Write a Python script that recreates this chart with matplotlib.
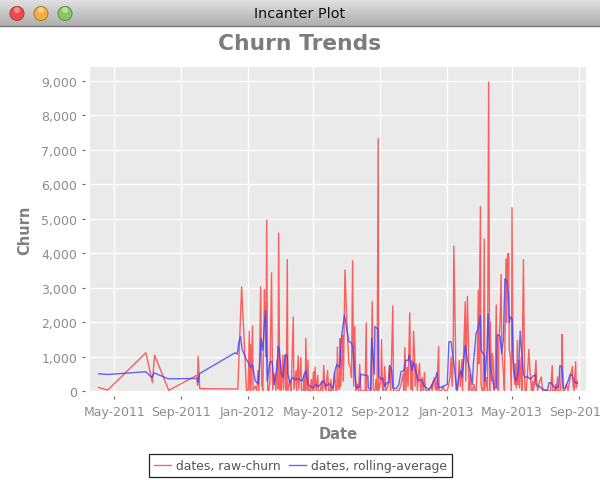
from matplotlib import pyplot as plt
from matplotlib.patches import Circle
from matplotlib.transforms import IdentityTransform
import matplotlib.dates as mdates
import matplotlib.ticker as ticker
import numpy as np
import pandas as pd

start_date = "2011-05-01"
window_title = "Incanter Plot"
chart_title = "Churn Trends"
raw_label = "dates, raw-churn"
avg_label = "dates, rolling-average"

# days counted from start_date
raw_days = [
    -29, -12, 58, 70, 74, 100, 152, 153, 154, 157, 227, 234, 243, 246, 248, 249, 250, 251, 254, 255,
    259, 262, 264, 266, 268, 269, 271, 273, 276, 277, 278, 279, 280, 282, 284, 286, 289, 291, 294, 297,
    299, 301, 302, 304, 305, 307, 310, 311, 314, 316, 318, 319, 323, 325, 329, 330, 334, 335, 338, 339,
    343, 344, 347, 349, 351, 352, 354, 356, 357, 360, 362, 364, 366, 367, 369, 371, 374, 375, 379, 381,
    383, 385, 387, 389, 392, 394, 397, 398, 400, 402, 405, 407, 409, 410, 412, 414, 415, 416, 420, 421,
    424, 427, 429, 431, 434, 436, 438, 440, 442, 444, 447, 449, 451, 453, 455, 459, 461, 463, 464, 468,
    470, 472, 474, 476, 479, 481, 483, 485, 486, 490, 491, 493, 495, 497, 499, 503, 506, 508, 512, 513,
    516, 520, 522, 523, 527, 531, 532, 534, 536, 538, 540, 543, 545, 547, 548, 550, 552, 553, 555, 557,
    559, 561, 563, 564, 566, 568, 570, 572, 575, 579, 583, 584, 588, 590, 592, 593, 596, 597, 601, 604,
    608, 612, 614, 617, 619, 621, 623, 624, 627, 628, 630, 632, 634, 636, 639, 640, 645, 646, 649, 651,
    652, 654, 656, 658, 661, 663, 665, 667, 669, 670, 673, 674, 676, 678, 680, 681, 684, 686, 688, 690,
    691, 693, 695, 696, 698, 700, 702, 704, 706, 707, 709, 711, 712, 715, 717, 718, 720, 721, 723, 725,
    726, 728, 730, 731, 733, 736, 737, 739, 741, 742, 744, 745, 748, 749, 752, 754, 755, 757, 759, 762,
    764, 767, 769, 770, 772, 775, 776, 778, 782, 785, 787, 791, 795, 798, 802, 805, 806, 809, 811, 812,
    815, 816, 820, 822, 823, 825, 827, 831, 834, 838, 842, 843, 845, 848, 849, 851,
]
raw_churn = [
    115, 40, 1120, 260, 1050, 30, 470, 180, 1020, 80, 70, 3030, 20, 30, 1740, 60, 1360, 20, 1900, 30,
    150, 10, 600, 20, 1915, 3030, 200, 30, 2950, 2000, 2600, 1000, 4970, 20, 10, 300, 3440, 50, 500, 30,
    900, 80, 4590, 50, 900, 20, 1050, 50, 1050, 30, 3820, 20, 300, 10, 2160, 60, 600, 10, 1030, 60,
    980, 10, 10, 500, 10, 1530, 30, 905, 30, 10, 350, 30, 570, 10, 700, 20, 470, 30, 10, 300,
    10, 750, 100, 30, 610, 30, 10, 350, 30, 10, 560, 30, 20, 1290, 100, 60, 1530, 150, 1630, 300,
    3520, 2200, 1500, 800, 700, 400, 3790, 150, 1890, 10, 200, 10, 780, 30, 10, 20, 10, 1990, 10, 10,
    30, 10, 2610, 60, 10, 350, 30, 7330, 20, 300, 1500, 60, 10, 720, 10, 150, 750, 10, 2480, 10,
    10, 10, 30, 10, 200, 500, 20, 1270, 30, 700, 150, 2280, 60, 900, 30, 1740, 1000, 150, 800, 30,
    500, 810, 10, 30, 400, 10, 550, 30, 10, 30, 200, 10, 400, 60, 300, 30, 1300, 30, 10, 150,
    10, 30, 150, 400, 1000, 150, 1200, 4210, 1500, 60, 10, 200, 900, 150, 925, 30, 2600, 300, 2755, 1300,
    30, 500, 30, 10, 200, 30, 10, 600, 2930, 800, 5355, 200, 30, 10, 4420, 30, 400, 10, 8960, 30,
    2010, 300, 1100, 900, 30, 200, 2510, 100, 30, 1500, 2000, 3390, 1200, 600, 30, 1500, 3840, 2000, 3990, 4000,
    1200, 1000, 10, 5320, 800, 200, 800, 100, 1480, 200, 900, 100, 1000, 30, 3820, 500, 30, 10, 400, 1220,
    600, 10, 300, 10, 200, 900, 400, 30, 300, 420, 20, 30, 10, 10, 30, 750, 30, 10, 200, 10,
    420, 30, 30, 600, 1650, 30, 10, 200, 30, 400, 720, 200, 30, 860, 100, 300,
]

avg_days = [
    -29, -12, 58, 69, 73, 99, 152, 154, 157, 222, 226, 229, 232, 235, 242, 246, 250, 254, 259, 264,
    266, 270, 273, 276, 278, 281, 286, 290, 294, 299, 301, 303, 307, 310, 314, 318, 319, 323, 327, 332,
    338, 345, 352, 356, 364, 371, 375, 381, 385, 389, 395, 398, 402, 405, 409, 414, 418, 423, 431, 436,
    438, 442, 445, 451, 453, 466, 467, 471, 473, 478, 479, 485, 486, 490, 493, 497, 501, 505, 506, 510,
    512, 518, 523, 527, 532, 536, 540, 542, 547, 550, 553, 559, 564, 570, 577, 583, 586, 590, 593, 596,
    602, 612, 615, 619, 623, 627, 630, 634, 637, 639, 641, 645, 649, 654, 658, 660, 665, 669, 673, 674,
    678, 680, 681, 685, 687, 689, 691, 695, 698, 702, 704, 709, 712, 715, 718, 722, 724, 726, 728, 731,
    733, 736, 739, 743, 746, 748, 752, 755, 759, 765, 770, 774, 775, 783, 790, 796, 799, 803, 807, 812,
    816, 817, 819, 823, 825, 829, 834, 838, 842, 845, 849, 851,
]
rolling_avg = [
    510, 490, 570, 400, 540, 365, 375, 260, 520, 1120, 1080, 1440, 1590, 1220, 950, 840, 700, 770, 300, 230,
    500, 1530, 1200, 1970, 2350, 300, 840, 880, 200, 700, 1300, 1240, 500, 400, 1050, 1050, 500, 250, 400, 350,
    360, 300, 615, 200, 100, 200, 130, 250, 300, 150, 230, 150, 100, 570, 780, 700, 1630, 2225, 1450, 1400,
    1300, 470, 100, 130, 500, 450, 100, 50, 1530, 500, 1880, 1800, 450, 350, 400, 150, 250, 250, 750, 600,
    100, 80, 200, 575, 600, 905, 900, 1050, 600, 850, 650, 300, 350, 150, 60, 130, 290, 350, 550, 100,
    130, 200, 1440, 1440, 950, 400, 50, 500, 600, 400, 700, 1340, 900, 600, 200, 800, 1680, 1820, 2200, 1190,
    1100, 1050, 300, 1200, 2250, 1300, 700, 350, 100, 100, 1650, 1600, 1100, 1500, 3260, 3200, 2800, 2000, 2160, 2100,
    1000, 400, 300, 600, 1750, 1300, 500, 400, 430, 350, 450, 480, 200, 120, 50, 30, 250, 250, 150, 100,
    130, 120, 750, 700, 100, 100, 300, 500, 450, 300, 230, 230,
]

y_ticks = [0, 1000, 2000, 3000, 4000, 5000, 6000, 7000, 8000, 9000]

raw_dates = pd.Timestamp(start_date) + pd.to_timedelta(raw_days, unit="D")
avg_dates = pd.Timestamp(start_date) + pd.to_timedelta(avg_days, unit="D")

plt.rcParams["font.family"] = "DejaVu Sans"
fig = plt.figure(figsize=(6.0, 4.81), dpi=100, facecolor="white")

# mac window title bar
bar = fig.add_axes([0, 1 - 27 / 481, 1, 27 / 481])
bar.imshow(np.linspace(0.88, 0.68, 27).reshape(-1, 1), aspect="auto", cmap="gray", vmin=0, vmax=1)
bar.axis("off")
fig.add_artist(plt.Line2D([0, 1], [1 - 27 / 481] * 2, color="#777777", lw=1))
fig.text(0.5, 1 - 14.5 / 481, window_title, ha="center", va="center", fontsize=10.4, color="#111111")

for cx, col, edge, shine in [(17, "#ee4a4e", "#a83a3a", "#f7a0a0"), (41, "#f2ae40", "#a87a25", "#f9d9a0"),
                             (65, "#86c862", "#5a8a40", "#c8e8b4")]:
    fig.add_artist(Circle((cx, 466.5), 7, fc=col, ec=edge, lw=0.7, transform=IdentityTransform()))
    fig.add_artist(Circle((cx, 470), 3, fc=shine, ec="none", alpha=0.8, transform=IdentityTransform()))

ax = fig.add_axes([90 / 600, 1 - 392.4 / 481, 496 / 600, 324.1 / 481], facecolor="#eaeaea")

ax.plot(raw_dates, raw_churn, color="#ff3030", alpha=0.75, lw=1, label=raw_label)
ax.plot(avg_dates, rolling_avg, color="#4040ff", alpha=0.8, lw=1, label=avg_label)

ax.set_xlim(pd.Timestamp(start_date) + pd.Timedelta(days=-44.7), pd.Timestamp(start_date) + pd.Timedelta(days=867))
ax.set_ylim(0, 9394)

ax.xaxis.set_major_locator(mdates.MonthLocator(bymonth=[1, 5, 9]))
ax.xaxis.set_major_formatter(mdates.DateFormatter("%b-%Y"))
ax.set_yticks(y_ticks)
ax.yaxis.set_major_formatter(ticker.StrMethodFormatter("{x:,.0f}"))

ax.grid(True, color="white", lw=0.95)
ax.set_axisbelow(True)
for side in ax.spines:
    ax.spines[side].set_position(("outward", 3.6))
    ax.spines[side].set_visible(False)
ax.tick_params(axis="both", colors="#666666", labelcolor="#8c8c8c", labelsize=9, length=2.5, width=0.8, pad=3)
ax.tick_params(axis="x", pad=4)

fig.text(300 / 600, 1 - 44 / 481, chart_title, ha="center", va="center", fontsize=15.7, fontweight="bold", color="#7c7c7c")
fig.text(338 / 600, 1 - 435 / 481, "Date", ha="center", va="center", fontsize=10.5, fontweight="bold", color="#808080")
fig.text(25 / 600, 1 - 230 / 481, "Churn", ha="center", va="center", rotation=90, fontsize=10.5, fontweight="bold", color="#808080")

leg = fig.legend(loc="center", bbox_to_anchor=(300.5 / 600, 1 - 466.5 / 481), ncol=2, fontsize=8.9, frameon=True,
                 fancybox=False, edgecolor="#222222", framealpha=1, borderpad=0.4, handlelength=1.4,
                 handletextpad=0.4, columnspacing=0.6, borderaxespad=0)
leg.get_frame().set_linewidth(0.9)
for text in leg.get_texts():
    text.set_color("#555555")

fig.savefig("out.png", dpi=100)
